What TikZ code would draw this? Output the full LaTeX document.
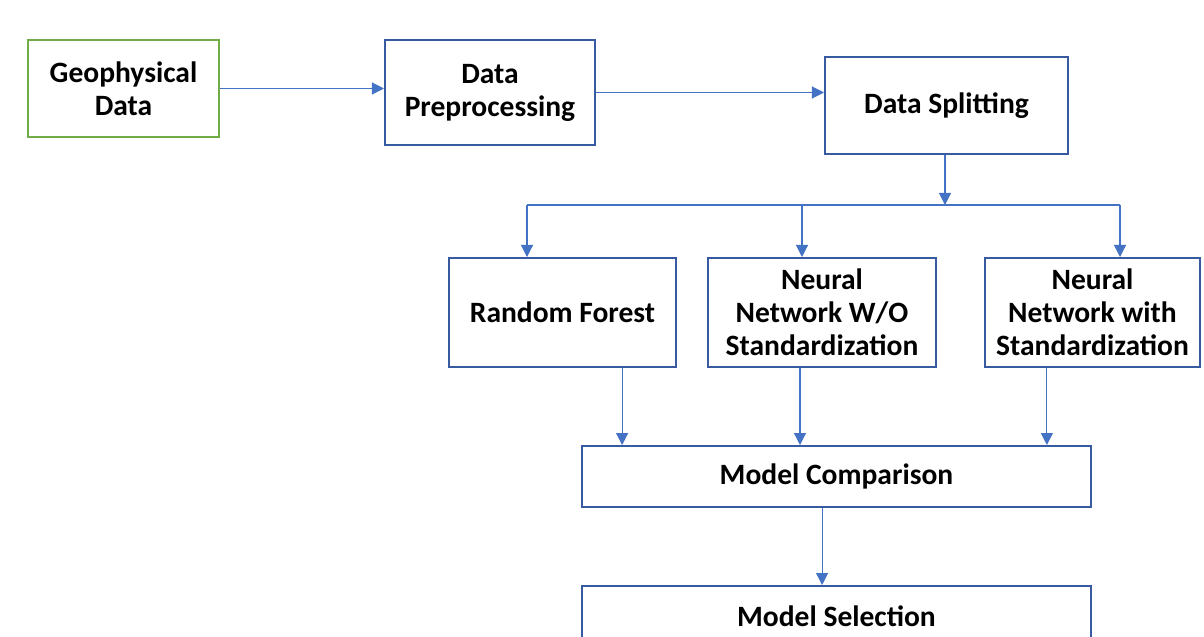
\documentclass[tikz,border=0pt]{standalone}
\usepackage{fontspec}
\setmainfont{Carlito}
\usetikzlibrary{arrows.meta}
\definecolor{boxblue}{RGB}{56,90,160}
\definecolor{linkblue}{RGB}{68,114,196}
\definecolor{boxgreen}{RGB}{112,173,71}
\tikzstyle{stage} = [rectangle, draw=boxblue, line width=1.4pt, align=center, inner sep=0pt, font=\fontsize{21}{23.5}\selectfont\bfseries]
\tikzstyle{source} = [stage, draw=boxgreen]
\tikzstyle{link} = [draw=linkblue, line width=0.8pt]
\tikzstyle{arrow} = [link, -{Triangle[length=0.3cm,width=0.3cm]}]

\begin{document}
\begin{tikzpicture}[x=0.025cm, y=-0.025cm]
  \useasboundingbox (0,0) rectangle (1204,637);
  \node (geo) [source, minimum width=4.775cm, minimum height=2.425cm] at (123.5,88.5) {Geophysical\\Data};
  \node (prep) [stage, minimum width=5.25cm, minimum height=2.625cm] at (490,92.5) {Data\\Preprocessing};
  \node (split) [stage, minimum width=6.075cm, minimum height=2.425cm] at (946.5,105.5) {Data Splitting};

  \node (rf) [stage, minimum width=5.675cm, minimum height=2.725cm] at (562.5,312.5) {Random Forest};
  \node (nnwo) [stage, minimum width=5.7cm, minimum height=2.725cm] at (822,312.5) {Neural\\Network W/O\\Standardization};
  \node (nnw) [stage, minimum width=5.375cm, minimum height=2.725cm] at (1092.5,312.5) {Neural\\Network with\\Standardization};

  \node (cmp) [stage, minimum width=12.725cm, minimum height=1.525cm] at (836.5,476.5) {Model Comparison};
  \node (sel) [stage, minimum width=12.725cm, minimum height=1.525cm] at (836.5,616.5) {Model Selection};

  \coordinate (hub) at (945,205);
  \coordinate (b1) at (527,205);
  \coordinate (b2) at (802,205);
  \coordinate (b3) at (1120,205);

  \draw [arrow] (geo.east) -- (geo.east -| prep.west);
  \draw [arrow] (prep.east) -- (prep.east -| split.west);
  \draw [arrow] (hub |- split.south) -- (hub);
  \draw [link] (b1) -- (b3);
  \draw [arrow] (b1) -- (b1 |- rf.north);
  \draw [arrow] (b2) -- (b2 |- nnwo.north);
  \draw [arrow] (b3) -- (b3 |- nnw.north);

  \draw [arrow] ([xshift=1.49cm]rf.south) -- ([xshift=1.49cm]rf.south |- cmp.north);
  \draw [arrow] ([xshift=-0.55cm]nnwo.south) -- ([xshift=-0.55cm]nnwo.south |- cmp.north);
  \draw [arrow] ([xshift=-1.14cm]nnw.south) -- ([xshift=-1.14cm]nnw.south |- cmp.north);
  \draw [arrow] ([xshift=-0.36cm]cmp.south) -- ([xshift=-0.36cm]cmp.south |- sel.north);
\end{tikzpicture}
\end{document}
